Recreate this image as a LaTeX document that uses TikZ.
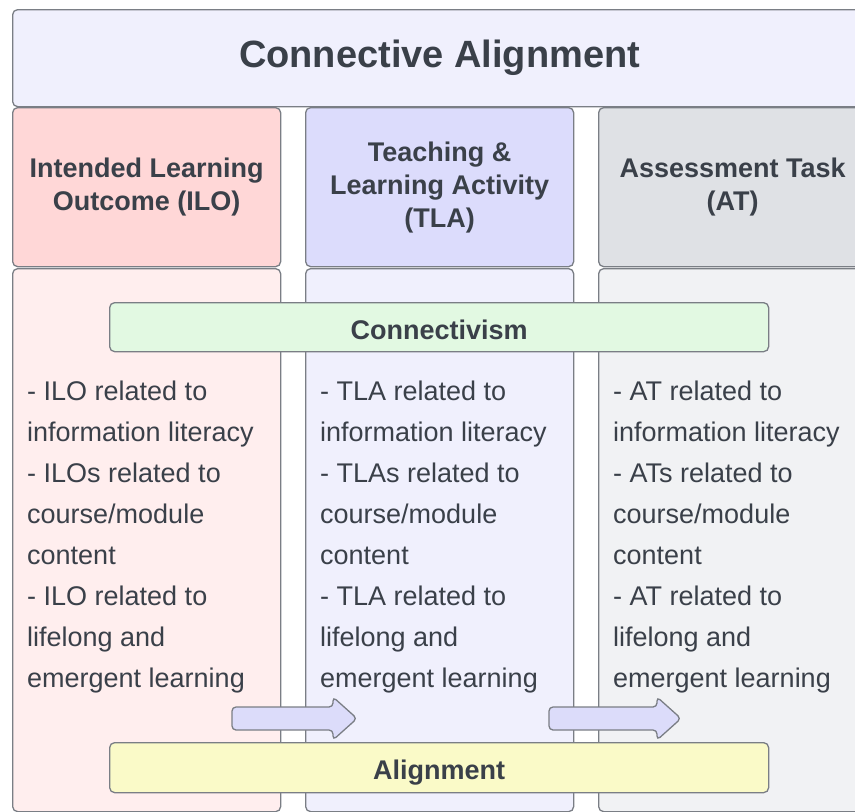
\documentclass[tikz,border=0pt]{standalone}
\usepackage{fontspec}
\setmainfont{Liberation Sans}
\definecolor{bordergray}{HTML}{7A7E85}
\definecolor{txtgray}{HTML}{3A4049}
\definecolor{titlefill}{HTML}{F0F0FD}
\definecolor{ilohead}{HTML}{FFD7D7}
\definecolor{tlahead}{HTML}{DCDCFC}
\definecolor{athead}{HTML}{DFE1E5}
\definecolor{ilobody}{HTML}{FFEEEE}
\definecolor{tlabody}{HTML}{F0F0FD}
\definecolor{atbody}{HTML}{F1F2F4}
\definecolor{connfill}{HTML}{E2F9E2}
\definecolor{alignfill}{HTML}{FAFAC8}
\definecolor{arrowfill}{HTML}{DCDCFA}
\begin{document}
\begin{tikzpicture}[x=1pt,y=-1pt,
  box/.style={draw=bordergray, line width=1.3pt, rounded corners=5pt, inner sep=0pt, anchor=north west, text=txtgray},
  headbox/.style={box, minimum width=268pt, minimum height=159pt, align=center, font=\fontsize{27}{33}\selectfont\bfseries},
  bodybox/.style={box, minimum width=268pt, minimum height=543pt},
  bandbox/.style={box, minimum width=659pt, minimum height=49pt, text height=24pt, text depth=0pt, font=\fontsize{27}{33}\selectfont\bfseries},
  bodytext/.style={anchor=base west, inner sep=0pt, text=txtgray, font=\fontsize{27}{33}\selectfont},
  blockarrow/.style={draw=bordergray, line width=1.3pt, fill=arrowfill, rounded corners=4pt}]
\useasboundingbox (0,0) rectangle (855,812);
% title
\node[box, fill=titlefill, minimum width=854pt, minimum height=97pt, font=\fontsize{38}{46}\selectfont\bfseries] (title) at (12,9) {Connective Alignment};
% headers
\node[headbox, fill=ilohead] (ilohead) at (12,107) {Intended Learning\\Outcome (ILO)};
\node[headbox, fill=tlahead] (tlahead) at (305,107) {Teaching \&\\Learning Activity\\(TLA)};
\node[headbox, fill=athead] (athead) at (598,107) {Assessment Task\\(AT)};
% bodies
\node[bodybox, fill=ilobody] (ilobody) at (12,268) {};
\node[bodybox, fill=tlabody] (tlabody) at (305,268) {};
\node[bodybox, fill=atbody] (atbody) at (598,268) {};
% body texts
\foreach \c/\x/\a/\s in {ilo/27/ILO/ILOs, tla/320/TLA/TLAs, at/613/AT/ATs}{
  \node[bodytext] (\c-1) at (\x,400) {- \a\ related to};
  \node[bodytext] (\c-2) at (\x,441) {information literacy};
  \node[bodytext] (\c-3) at (\x,482) {- \s\ related to};
  \node[bodytext] (\c-4) at (\x,523) {course/module};
  \node[bodytext] (\c-5) at (\x,564) {content};
  \node[bodytext] (\c-6) at (\x,605) {- \a\ related to};
  \node[bodytext] (\c-7) at (\x,646) {lifelong and};
  \node[bodytext] (\c-8) at (\x,687) {emergent learning};
}
% bands
\node[bandbox, fill=connfill] (conn) at (109,302) {Connectivism};
% block arrows
\draw[blockarrow] (232,707) -- (333,707) -- (333,697) -- (357,718.5) -- (333,740) -- (333,730) -- (232,730) -- cycle;
\draw[blockarrow] (549,707) -- (657,707) -- (657,697) -- (681,718.5) -- (657,740) -- (657,730) -- (549,730) -- cycle;
\node[bandbox, fill=alignfill, minimum height=50pt] (align) at (109,742) {Alignment};
\end{tikzpicture}
\end{document}
